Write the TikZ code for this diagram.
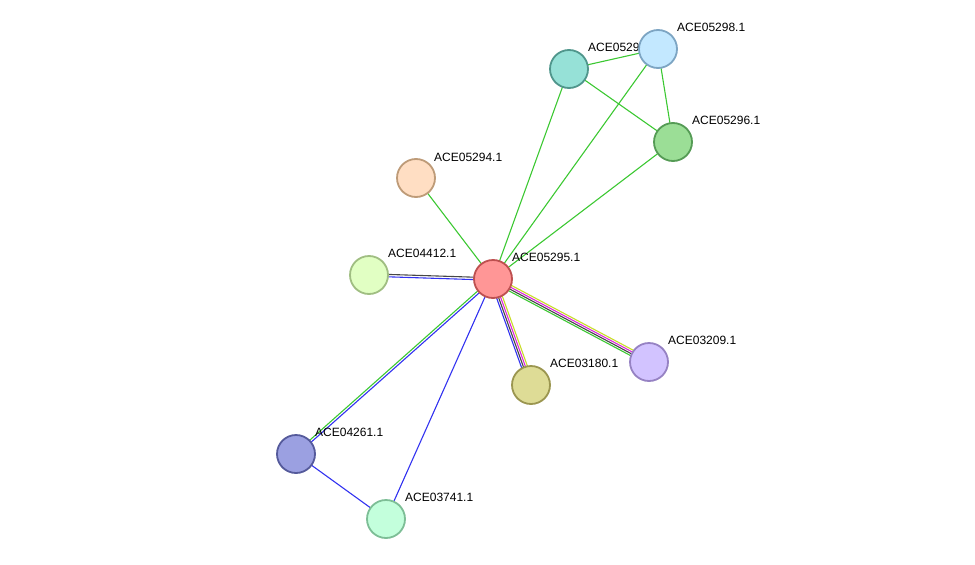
\documentclass[tikz,border=0pt]{standalone}
\usepackage{fontspec}
\setmainfont{Liberation Sans}
\usetikzlibrary{calc}
\definecolor{eg}{RGB}{60,200,50}
\definecolor{eb}{RGB}{50,50,240}
\definecolor{ek}{RGB}{70,70,70}
\definecolor{em}{RGB}{220,40,220}
\definecolor{ey}{RGB}{200,220,40}
\tikzset{
 prot/.style={circle,draw,line width=1.8pt,minimum size=38pt,inner sep=0pt},
 lab/.style={anchor=base west,font=\fontsize{12pt}{14pt}\selectfont,inner sep=0pt},
 edge/.style={line width=1.1pt}
}
\newcommand{\pedge}[4]{\draw[edge,#4] ($(#1)!#3!90:(#2)$) -- ($(#2)!#3!-90:(#1)$);}
\begin{document}
\begin{tikzpicture}[x=1pt,y=-1pt]
\useasboundingbox (0,0) rectangle (975,565);
\coordinate (c) at (493,279);
\coordinate (p94) at (416,178);
\coordinate (p12) at (369,275);
\coordinate (p97) at (569,69);
\coordinate (p98) at (658,49);
\coordinate (p96) at (673,142);
\coordinate (p09) at (649,362);
\coordinate (p80) at (531,385);
\coordinate (p61) at (296,454);
\coordinate (p41) at (386,519);
% edges
\pedge{c}{p94}{0pt}{eg}
\pedge{c}{p97}{0pt}{eg}
\pedge{c}{p98}{0pt}{eg}
\pedge{c}{p96}{0pt}{eg}
\pedge{p97}{p98}{0pt}{eg}
\pedge{p97}{p96}{0pt}{eg}
\pedge{p98}{p96}{0pt}{eg}
\pedge{c}{p12}{1.2pt}{eb}
\pedge{c}{p12}{-1.2pt}{ek}
\pedge{c}{p09}{3pt}{ey}
\pedge{c}{p09}{1pt}{em}
\pedge{c}{p09}{-1pt}{ek}
\pedge{c}{p09}{-3pt}{eg}
\pedge{c}{p80}{-3pt}{eb}
\pedge{c}{p80}{-1pt}{ek}
\pedge{c}{p80}{1pt}{em}
\pedge{c}{p80}{3pt}{ey}
\pedge{c}{p61}{-1.2pt}{eg}
\pedge{c}{p61}{1.2pt}{eb}
\pedge{c}{p41}{0pt}{eb}
\pedge{p61}{p41}{0pt}{eb}
% labels
\node[lab] at (434,161) {ACE05294.1};
\node[lab] at (388,257) {ACE04412.1};
\node[lab] at (588,51) {ACE05297.1};
\node[lab] at (677,31) {ACE05298.1};
\node[lab] at (692,124) {ACE05296.1};
\node[lab] at (512,261) {ACE05295.1};
\node[lab] at (668,344) {ACE03209.1};
\node[lab] at (550,367) {ACE03180.1};
\node[lab] at (315,436) {ACE04261.1};
\node[lab] at (405,501) {ACE03741.1};
% nodes
\node[prot,fill={rgb,255:red,255;green,150;blue,150},draw={rgb,255:red,190;green,80;blue,80}] (n95) at (c) {};
\node[prot,fill={rgb,255:red,255;green,222;blue,195},draw={rgb,255:red,190;green,155;blue,120}] (n94) at (p94) {};
\node[prot,fill={rgb,255:red,225;green,255;blue,195},draw={rgb,255:red,160;green,190;blue,130}] (n12) at (p12) {};
\node[prot,fill={rgb,255:red,150;green,225;blue,215},draw={rgb,255:red,80;green,150;blue,140}] (n97) at (p97) {};
\node[prot,fill={rgb,255:red,195;green,232;blue,255},draw={rgb,255:red,125;green,165;blue,195}] (n98) at (p98) {};
\node[prot,fill={rgb,255:red,155;green,222;blue,150},draw={rgb,255:red,85;green,155;blue,85}] (n96) at (p96) {};
\node[prot,fill={rgb,255:red,210;green,195;blue,255},draw={rgb,255:red,150;green,130;blue,195}] (n09) at (p09) {};
\node[prot,fill={rgb,255:red,222;green,220;blue,150},draw={rgb,255:red,155;green,150;blue,80}] (n80) at (p80) {};
\node[prot,fill={rgb,255:red,155;green,160;blue,225},draw={rgb,255:red,85;green,90;blue,155}] (n61) at (p61) {};
\node[prot,fill={rgb,255:red,195;green,255;blue,220},draw={rgb,255:red,125;green,190;blue,150}] (n41) at (p41) {};
\end{tikzpicture}
\end{document}
